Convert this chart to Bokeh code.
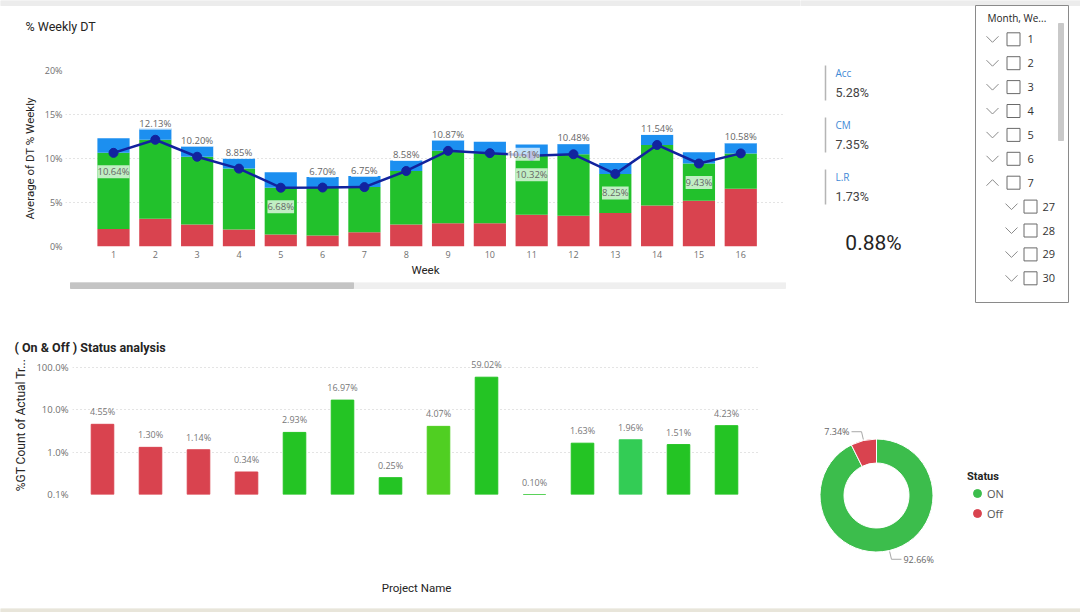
import numpy as np
from bokeh.plotting import figure
from bokeh.layouts import row, column
from bokeh.models import (ColumnDataSource, LabelSet, FixedTicker, PrintfTickFormatter,
                          Range1d, Legend, LegendItem)
from bokeh.core.properties import value
from bokeh.embed import file_html
from bokeh.resources import INLINE

# ---------------- data ----------------
weeks = list(range(1, 17))
dt_part_red = [2.00, 3.15, 2.50, 1.93, 1.36, 1.25, 1.63, 2.50, 2.65, 2.65, 3.60, 3.50, 3.80, 4.65, 5.20, 6.55]
dt_part_green = [8.64, 8.98, 7.70, 6.92, 5.32, 5.45, 5.12, 6.08, 8.22, 7.96, 6.72, 6.98, 4.45, 6.89, 4.23, 4.03]
dt_part_blue = [1.66, 1.27, 1.20, 1.12, 1.77, 1.20, 1.25, 1.19, 1.23, 1.29, 1.28, 1.17, 1.25, 1.16, 1.27, 1.17]
weekly_avg_dt = [10.64, 12.13, 10.20, 8.85, 6.68, 6.70, 6.75, 8.58, 10.87, 10.61, 10.32, 10.48, 8.25, 11.54, 9.43, 10.58]
avg_label_side = ["below", "above", "above", "above", "below", "above", "above", "above",
                  "above", "right", "below", "above", "below", "above", "below", "above"]

kpi_names = ["Acc", "CM", "L.R"]
kpi_values = ["5.28%", "7.35%", "1.73%"]
overall_value = "0.88%"

slicer_title = "Month, We..."
slicer_months = ["1", "2", "3", "4", "5", "6", "7"]
slicer_weeks = ["27", "28", "29", "30"]

project_share = [4.55, 1.30, 1.14, 0.34, 2.93, 16.97, 0.25, 4.07, 59.02, 0.10, 1.63, 1.96, 1.51, 4.23]
project_status = ["Off"] * 4 + ["ON"] * 10

status_names = ["ON", "Off"]
status_share = [92.66, 7.34]

# ---------------- styling ----------------
RED = "#d9434f"
GREEN = "#22c12c"
BLUE = "#1c8ff0"
NAVY = "#12239e"
TXT = "#252423"
TICK = "#6f6f6f"
BODY = "Open Sans"
HEAD = "Roboto"
STRIP = "#ececec"
FLOOR = "#e8e5da"


def canvas(w, h, x0=0, y0=0):
    """Plain drawing area whose data units are pixels, y growing downwards."""
    f = figure(width=w, height=h, x_range=Range1d(x0, x0 + w), y_range=Range1d(y0 + h, y0),
               output_backend="svg", toolbar_location=None, min_border=0, frame_align=False,
               x_axis_location=None, y_axis_location=None, outline_line_color=None,
               border_fill_color="white", background_fill_color="white")
    f.grid.visible = False
    return f


def style_axes(fig, tick_size="9px"):
    for ax in (fig.xaxis, fig.yaxis):
        ax.axis_line_color = None
        ax.major_tick_line_color = None
        ax.minor_tick_line_color = None
        ax.major_tick_out = 0
        ax.major_tick_in = 0
        ax.minor_tick_out = 0
        ax.minor_tick_in = 0
        ax.major_label_text_font_size = tick_size
        ax.major_label_text_color = TICK
        ax.major_label_text_font = BODY
        ax.axis_label_text_font = HEAD
        ax.axis_label_text_font_size = "11.5px"
        ax.axis_label_text_font_style = "normal"
        ax.axis_label_text_color = TXT


# ---------------- weekly DT header ----------------
head1 = canvas(800, 50)
head1.quad(left=0, right=800, top=0, bottom=5, color=STRIP)
head1.text(x=[25], y=[26], text=["% Weekly DT"], text_font=value(HEAD), text_font_size="12.5px",
           text_color=TXT, text_baseline="middle")

# ---------------- weekly DT chart ----------------
top = figure(width=800, height=232, x_range=Range1d(-0.148, 17.07), y_range=Range1d(0, 20),
             output_backend="svg", toolbar_location=None, frame_align=False,
             min_border_left=65, min_border_right=15, min_border_top=20, min_border_bottom=36,
             outline_line_color=None, border_fill_color="white", background_fill_color="white")

src = ColumnDataSource(dict(week=weeks, red=dt_part_red, green=dt_part_green, blue=dt_part_blue))
top.vbar_stack(["red", "green", "blue"], x="week", width=0.77, color=[RED, GREEN, BLUE],
               line_color=None, source=src)

top.line(weeks, weekly_avg_dt, color=NAVY, line_width=2.5)
top.scatter(weeks, weekly_avg_dt, size=9, color=NAVY)

xo = [34 if s == "right" else 0 for s in avg_label_side]
yo = [16.5 if s == "above" else (-19 if s == "below" else -1) for s in avg_label_side]
lab_src = ColumnDataSource(dict(week=weeks, v=weekly_avg_dt, xo=xo, yo=yo,
                                txt=[f"{v:.2f}%" for v in weekly_avg_dt]))
top.add_layout(LabelSet(x="week", y="v", text="txt", x_offset="xo", y_offset="yo", source=lab_src,
                        text_align="center", text_baseline="middle", text_font_size="9.5px",
                        text_font=value(BODY), text_color="#666666",
                        background_fill_color="white", background_fill_alpha=0.72))

top.xaxis.ticker = FixedTicker(ticks=weeks)
top.yaxis.ticker = FixedTicker(ticks=[0, 5, 10, 15, 20])
top.yaxis.formatter = PrintfTickFormatter(format="%d%%")
top.ygrid.ticker = FixedTicker(ticks=[0, 5, 10, 15, 20])
top.xgrid.grid_line_color = None
top.ygrid.grid_line_color = "#c9c9c9"
top.ygrid.grid_line_dash = "1 3"
style_axes(top)
top.xaxis.axis_label = "Week"
top.xaxis.major_label_standoff = 4
top.xaxis.axis_label_standoff = 2
top.yaxis.axis_label = "Average of DT % Weekly"
top.yaxis.major_label_standoff = 3
top.yaxis.axis_label_standoff = 5

# scroll bar under the week axis
scroll = canvas(800, 23)
scroll.quad(left=70, right=785, top=0, bottom=6, color="#efefef")
scroll.quad(left=70, right=353, top=0, bottom=6, color="#c4c4c4")

# ---------------- KPI cards and slicer ----------------
side = canvas(280, 305, x0=800)
side.quad(left=800, right=1080, top=0, bottom=5, color=STRIP)

card_y = [65 + 52 * i for i in range(len(kpi_names))]
side.segment(x0=[825] * 3, y0=card_y, x1=[825] * 3, y1=[y + 35 for y in card_y],
             line_color="#b5b5b5", line_width=1.5)
side.text(x=[835] * 3, y=[y + 7 for y in card_y], text=kpi_names, text_font=value(BODY),
          text_font_size="10px", text_color="#3f8ad6", text_baseline="middle")
side.text(x=[835] * 3, y=[y + 27 for y in card_y], text=kpi_values, text_font=value(HEAD),
          text_font_size="12.5px", text_color="#444444", text_baseline="middle")
side.text(x=[873], y=[242], text=[overall_value], text_font=value(HEAD), text_font_size="21px",
          text_color=TXT, text_align="center", text_baseline="middle")

side.quad(left=975, right=1068, top=5, bottom=302, fill_color="white", line_color="#8a8a8a")
side.quad(left=1058, right=1063, top=23, bottom=140, color="#c9c9c9")
side.text(x=[987], y=[17], text=[slicer_title], text_font=value(BODY), text_font_size="10px",
          text_color=TXT, text_baseline="middle")

row_y = [38.8 + 23.9 * i for i in range(len(slicer_months) + len(slicer_weeks))]
chev_xs, chev_ys, box_x, lab_x, labels = [], [], [], [], []
for i, cy in enumerate(row_y):
    lvl2 = i >= len(slicer_months)
    cx = 1011 if lvl2 else 992
    chev_xs.append([cx - 6, cx, cx + 6])
    if i == len(slicer_months) - 1:
        chev_ys.append([cy + 3, cy - 3, cy + 3])
    else:
        chev_ys.append([cy - 3, cy + 3, cy - 3])
    box_x.append(1030 if lvl2 else 1013)
    lab_x.append(1042 if lvl2 else 1027)
    labels.append(slicer_weeks[i - len(slicer_months)] if lvl2 else slicer_months[i])
side.multi_line(chev_xs, chev_ys, line_color="#8a8a8a", line_width=1)
side.rect(x=box_x, y=row_y, width=13, height=13, fill_color=None, line_color="#6a6a6a")
side.text(x=lab_x, y=row_y, text=labels, text_font=value(BODY), text_font_size="11px",
          text_color="#333333", text_baseline="middle")

# ---------------- On / Off status header ----------------
head2 = canvas(790, 50)
head2.text(x=[14], y=[42], text=["( On & Off ) Status analysis"], text_font=value(HEAD),
           text_font_size="12.5px", text_font_style="bold", text_color=TXT,
           text_baseline="middle")

# ---------------- On / Off status by project ----------------
n = len(project_share)
idx = list(range(1, n + 1))
bar_colors = [RED] * 4 + ["#24c424"] * 3 + ["#50cf22", "#24c424", "#24c424", "#24c424",
                                           "#33cc55", "#24c424", "#24c424"]
bot = figure(width=790, height=249, x_range=Range1d(0.375, 14.708), y_range=Range1d(0.1, 192.3),
             y_axis_type="log", output_backend="svg", toolbar_location=None, frame_align=False,
             min_border_left=72, min_border_right=30, min_border_top=0, min_border_bottom=110,
             outline_line_color=None, border_fill_color="white", background_fill_color="white")
bsrc = ColumnDataSource(dict(x=idx, top=project_share, color=bar_colors, status=project_status,
                             txt=[f"{v:.2f}%" for v in project_share]))
bot.vbar(x="x", top="top", bottom=0.1, width=0.47, fill_color="color", line_color="color",
         line_width=1, source=bsrc)
bot.add_layout(LabelSet(x="x", y="top", text="txt", source=bsrc, y_offset=6, text_align="center",
                        text_baseline="bottom", text_font=value(BODY), text_font_size="9px",
                        text_color="#777777"))
bot.yaxis.ticker = FixedTicker(ticks=[0.1, 1, 10, 100])
bot.yaxis.formatter = PrintfTickFormatter(format="%.1f%%")
bot.ygrid.ticker = FixedTicker(ticks=[0.1, 1, 10, 100])
bot.ygrid.grid_line_color = "#c9c9c9"
bot.ygrid.grid_line_dash = "1 3"
bot.xgrid.grid_line_color = None
bot.xaxis.ticker = FixedTicker(ticks=idx)
bot.xaxis.major_label_overrides = {i: "" for i in idx}
style_axes(bot, tick_size="9.5px")
bot.yaxis.axis_label = "%GT Count of Actual Tr..."
bot.yaxis.axis_label_text_font_size = "12px"
bot.yaxis.major_label_standoff = 4
bot.yaxis.axis_label_standoff = 5
bot.xaxis.axis_label = "Project Name"
bot.xaxis.axis_label_standoff = 86

# ---------------- status donut ----------------
donut = figure(width=290, height=299, x_range=Range1d(790, 1080), y_range=Range1d(-604, -305),
               output_backend="svg", toolbar_location=None, min_border=0, frame_align=False,
               x_axis_location=None, y_axis_location=None, outline_line_color=None,
               border_fill_color="white", background_fill_color="white")
donut.grid.visible = False
cx, cy, r_in, r_out = 876, -495, 32.5, 56.5
frac = np.array(status_share) / sum(status_share)
cum = np.concatenate([[0], np.cumsum(frac)])
starts = np.pi / 2 - 2 * np.pi * cum[:-1]
ends = np.pi / 2 - 2 * np.pi * cum[1:]
donut_colors = ["#3cbd4c", RED]
donut.annular_wedge(x=cx, y=cy, inner_radius=r_in, outer_radius=r_out, start_angle=starts,
                    end_angle=ends, direction="clock", fill_color=donut_colors,
                    line_color="white", line_width=1)
mids = (starts + ends) / 2
lx, ly, tx, ty, talign = [], [], [], [], []
for m in mids:
    ax_, ay_ = cx + (r_out + 1) * np.cos(m), cy + (r_out + 1) * np.sin(m)
    ex, ey = cx + (r_out + 9) * np.cos(m), cy + (r_out + 9) * np.sin(m)
    sgn = 1 if np.cos(m) >= 0 else -1
    hx = ex + 10 * sgn
    lx.append([ax_, ex, hx])
    ly.append([ay_, ey, ey])
    tx.append(hx + 2 * sgn)
    ty.append(ey)
    talign.append("left" if sgn > 0 else "right")
donut.multi_line(lx, ly, line_color="#a8a8a8", line_width=1)
donut.text(x=tx, y=ty, text=[f"{v:.2f}%" for v in status_share], text_align=talign,
           text_baseline="middle", text_font=value(BODY), text_font_size="9px",
           text_color="#666666")

# legend swatches: renderers holding no drawable point, only their colour
leg_r = [donut.scatter(x=[float("nan")], y=[float("nan")], size=9, color=c, marker="circle")
         for c in donut_colors]
legend = Legend(items=[LegendItem(label=s, renderers=[r]) for s, r in zip(status_names, leg_r)],
                title="Status", location=(177, 81), padding=0, margin=0, spacing=0,
                glyph_width=20, glyph_height=20, label_height=20, label_standoff=-2,
                title_standoff=0, label_text_font=BODY, label_text_font_size="11px",
                label_text_color="#555555", title_text_font=HEAD, title_text_font_size="11px",
                title_text_font_style="bold", title_text_color=TXT,
                background_fill_alpha=0, border_line_alpha=0)
donut.add_layout(legend)

# ---------------- page floor ----------------
floor = canvas(1080, 8)
floor.quad(left=0, right=1080, top=0, bottom=8, color=FLOOR)

layout = column(
    row(column(head1, top, scroll), side),
    row(column(head2, bot), donut),
    floor,
)
open("out.html", "w").write(file_html(layout, INLINE, "Downtime dashboard"))
